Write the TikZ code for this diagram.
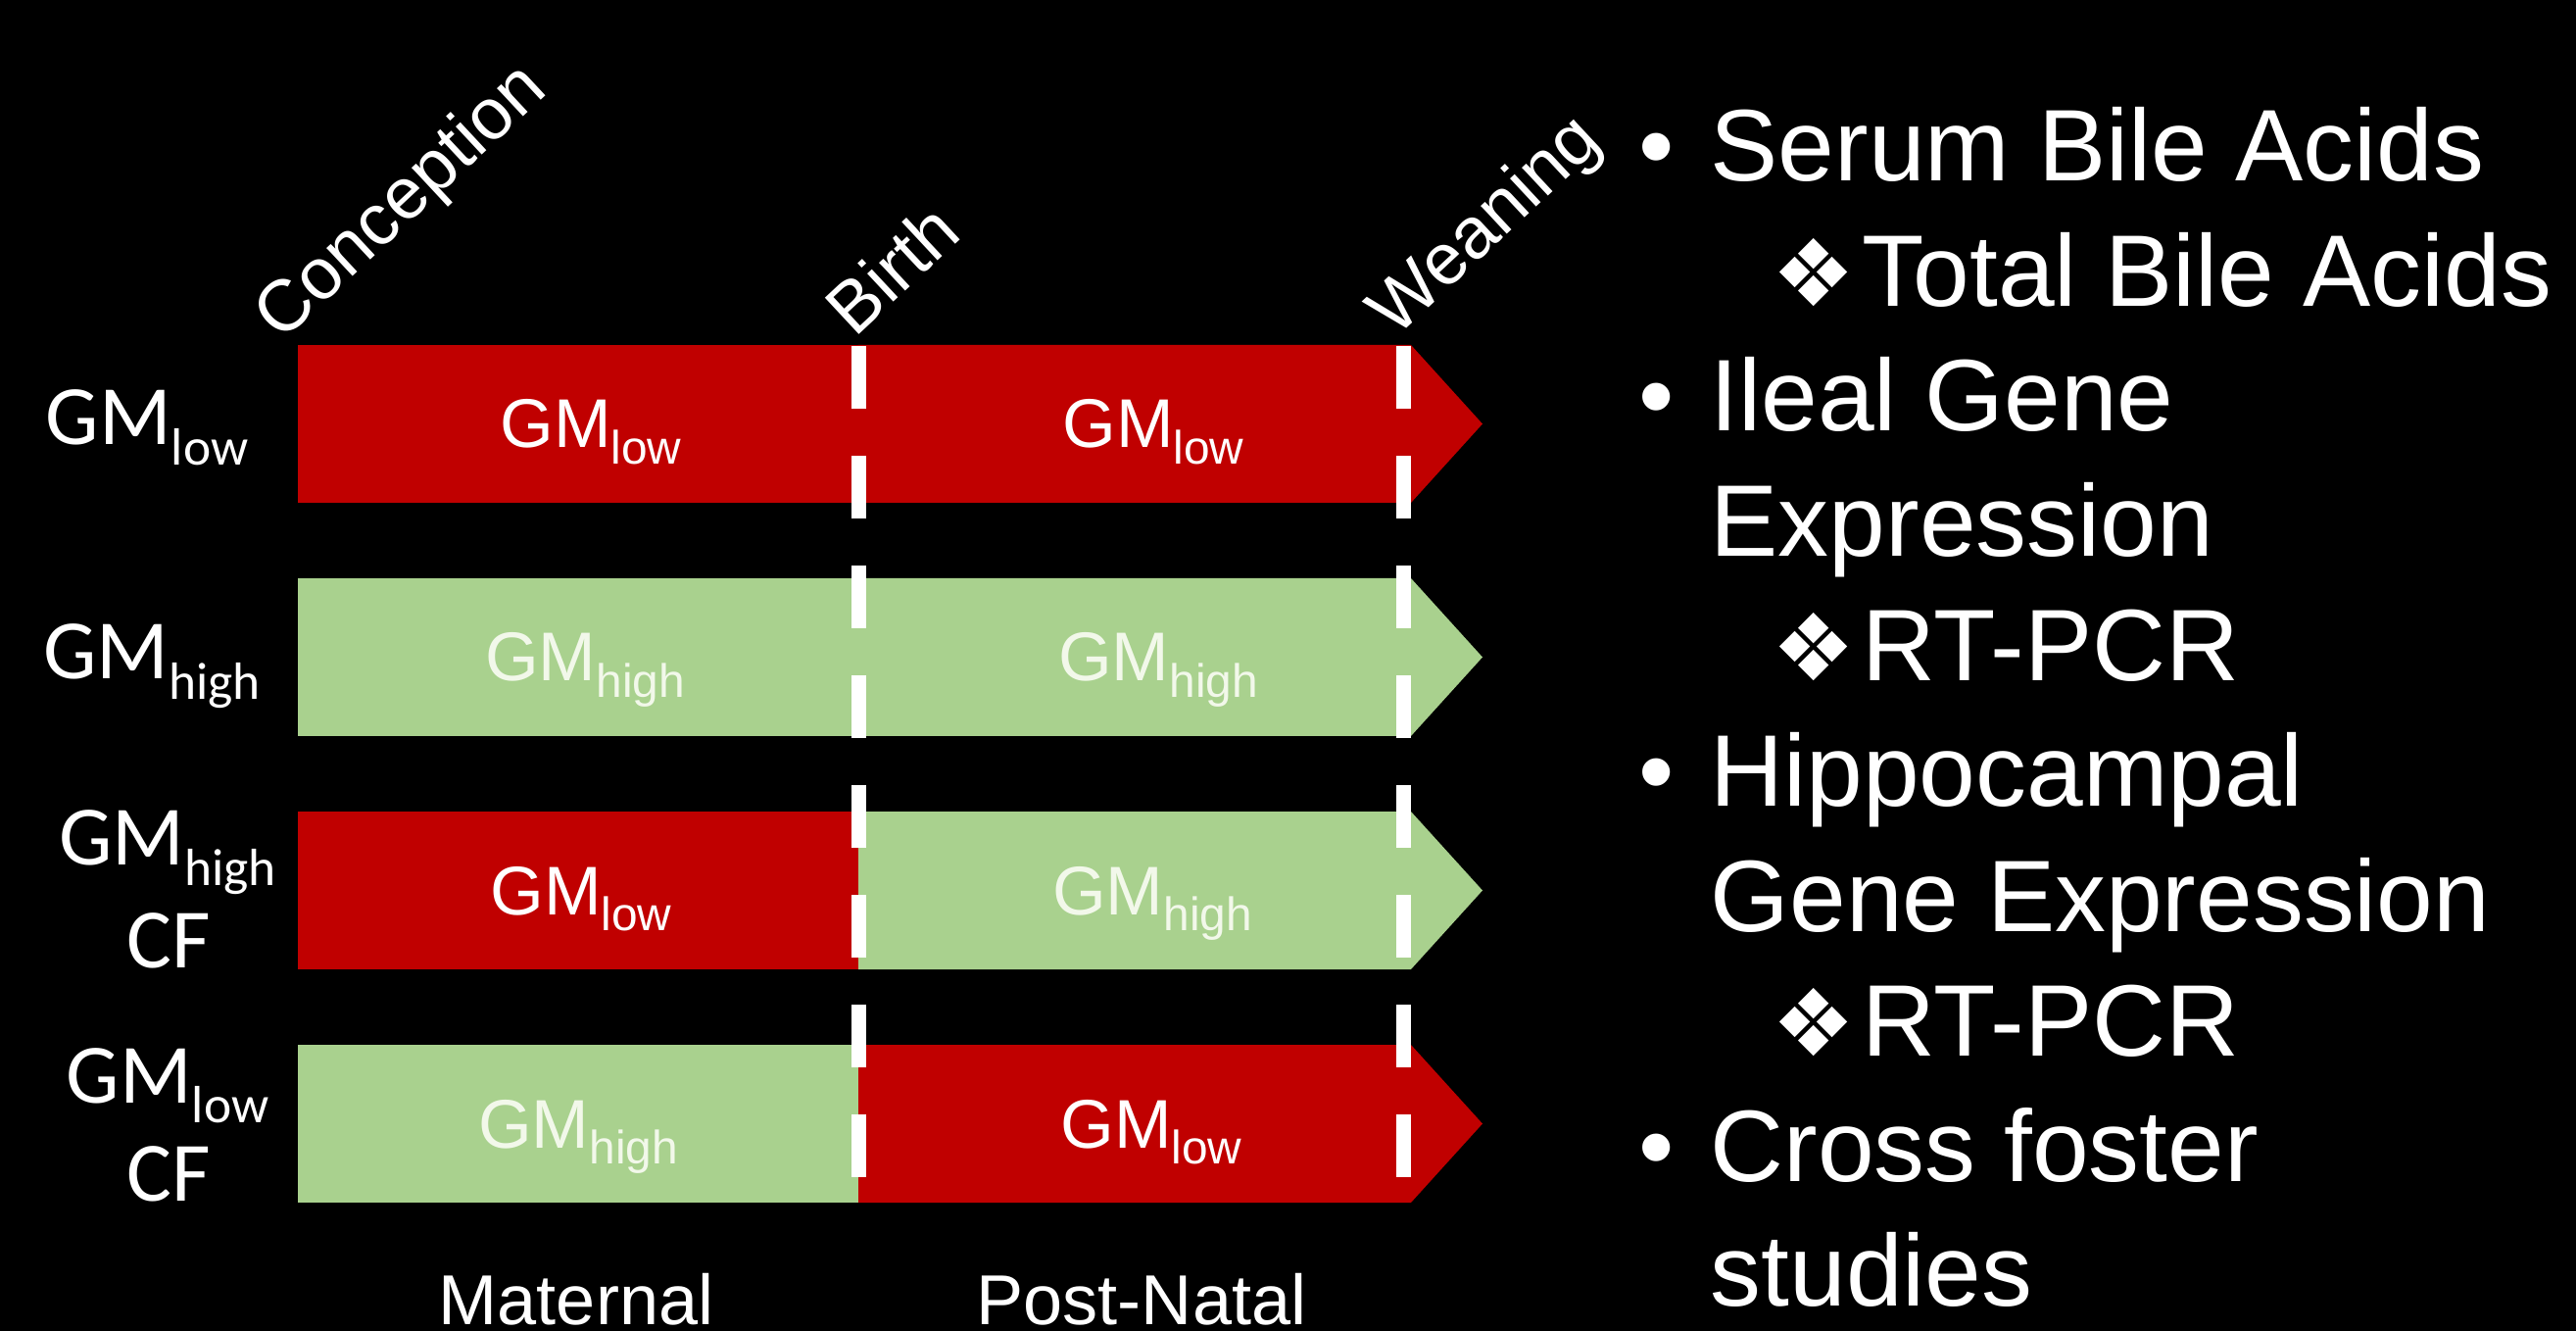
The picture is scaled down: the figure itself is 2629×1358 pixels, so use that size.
\documentclass[tikz,border=0pt]{standalone}
\usepackage{fontspec}
\usepackage{graphicx}
\setmainfont{Liberation Sans}
\newfontfamily\calib{Carlito}
\newfontfamily\symfont{DejaVu Sans}
\definecolor{gmred}{HTML}{C00000}
\definecolor{gmgreen}{HTML}{A9D18E}
\definecolor{gmpale}{HTML}{F2F8EA}
\newcommand\gm[2][0.68]{GM\raisebox{-0.24em}{\scalebox{#1}{#2}}}
\newcommand\dia{\makebox[9.2mm][l]{\symfont\fontsize{27}{30}\selectfont ❖}}
\newcommand\dotitem{\makebox[7.3mm][l]{•}}

\begin{document}
\begin{tikzpicture}[x=0.01cm, y=-0.01cm,
    rowlab/.style={anchor=base, inner sep=0pt, text=white, font=\calib\fontsize{24.5}{27}\selectfont},
    barlab/.style={anchor=base, inner sep=0pt, font=\fontsize{20}{22}\selectfont},
    ticklab/.style={anchor=base west, inner sep=0pt, rotate=43, text=white, font=\fontsize{21}{23}\selectfont},
    phaselab/.style={anchor=base, inner sep=0pt, text=white, font=\fontsize{20.5}{22}\selectfont},
    item/.style={anchor=base west, inner sep=0pt, text=white, font=\fontsize{29.5}{32}\selectfont},
    divider/.style={white, line width=1.5mm, dash pattern=on 6.4mm off 4.8mm}]
    \fill[black] (0,0) rectangle (2629,1358);
    \useasboundingbox (0,0) rectangle (2629,1358);

    % GM low
    \fill[gmred] (304,352) rectangle (876,513);
    \fill[gmred] (876,352) -- (1440,352) -- (1513,432.5) -- (1440,513) -- (876,513) -- cycle;
    \node[rowlab] (r1) at (150,454) {\gm[0.62]{low}};
    \node[barlab, text=white] (m1) at (603,457) {\gm{low}};
    \node[barlab, text=white] (p1) at (1177,457) {\gm{low}};

    % GM high
    \fill[gmgreen] (304,590) rectangle (876,751);
    \fill[gmgreen] (876,590) -- (1440,590) -- (1513,670.5) -- (1440,751) -- (876,751) -- cycle;
    \node[rowlab] (r2) at (155,693) {\gm[0.62]{high}};
    \node[barlab, text=gmpale] (m2) at (597,695) {\gm{high}};
    \node[barlab, text=gmpale] (p2) at (1182,695) {\gm{high}};

    % GM high CF
    \fill[gmred] (304,828) rectangle (876,989);
    \fill[gmgreen] (876,828) -- (1440,828) -- (1513,908.5) -- (1440,989) -- (876,989) -- cycle;
    \node[rowlab] (r3) at (171,883) {\gm[0.62]{high}};
    \node[rowlab] (r3cf) at (172,987) {CF};
    \node[barlab, text=white] (m3) at (593,933) {\gm{low}};
    \node[barlab, text=gmpale] (p3) at (1176,933) {\gm{high}};

    % GM low CF
    \fill[gmgreen] (304,1066) rectangle (876,1227);
    \fill[gmred] (876,1066) -- (1440,1066) -- (1513,1146.5) -- (1440,1227) -- (876,1227) -- cycle;
    \node[rowlab] (r4) at (171,1125) {\gm[0.62]{low}};
    \node[rowlab] (r4cf) at (172,1225) {CF};
    \node[barlab, text=gmpale] (m4) at (590,1171) {\gm{high}};
    \node[barlab, text=white] (p4) at (1175,1171) {\gm{low}};

    % time points
    \coordinate (B1) at (876,353);
    \coordinate (B2) at (876,1227);
    \coordinate (W1) at (1432,353);
    \coordinate (W2) at (1432,1227);
    \draw[divider] (B1) -- (B2);
    \draw[divider] (W1) -- (W2);
    \node[ticklab] (conc) at (287,350) {Conception};
    \node[ticklab] (birth) at (872,346) {Birth};
    \node[ticklab] (wean) at (1424,346) {Weaning};

    \node[phaselab] (mat) at (588,1351) {Maternal};
    \node[phaselab] (post) at (1165,1351) {Post-Natal};

    % outcomes
    \node[item] (i1) at (1672,185) {\dotitem Serum Bile Acids};
    \node[item] (i2) at (1808,312.5) {\dia Total Bile Acids};
    \node[item] (i3) at (1672,440) {\dotitem Ileal Gene};
    \node[item] (i4) at (1745,567.5) {Expression};
    \node[item] (i5) at (1808,695) {\dia RT-PCR};
    \node[item] (i6) at (1672,822.5) {\dotitem Hippocampal};
    \node[item] (i7) at (1745,950) {Gene Expression};
    \node[item] (i8) at (1808,1077.5) {\dia RT-PCR};
    \node[item] (i9) at (1672,1205) {\dotitem Cross foster};
    \node[item] (i10) at (1745,1332.5) {studies};
  \end{tikzpicture}
\end{document}
